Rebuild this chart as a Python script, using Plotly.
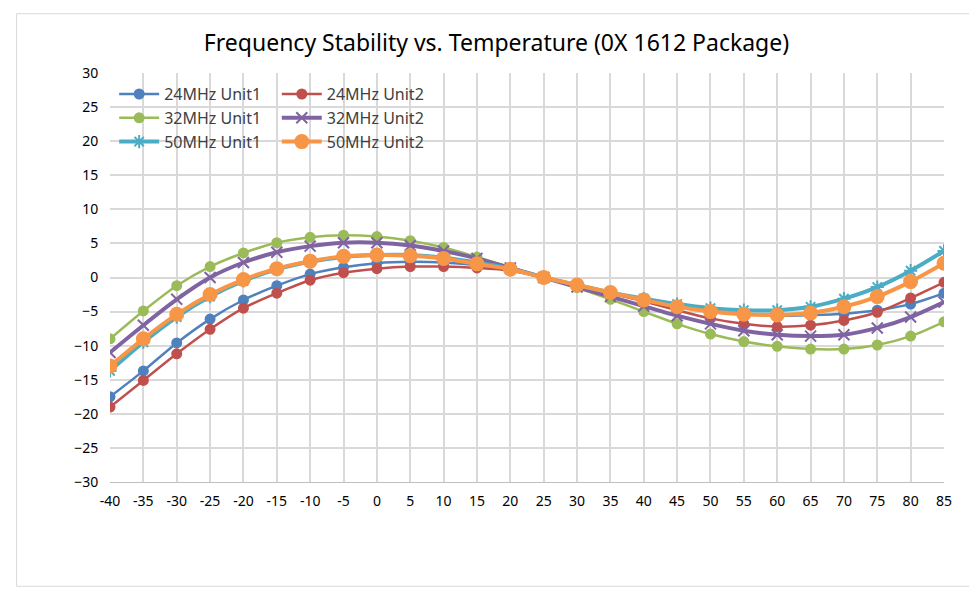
import plotly.graph_objects as go

temps = list(range(-40, 90, 5))
u24_1 = [-17.5,-13.7,-9.6,-6.1,-3.3,-1.2,0.5,1.5,2.1,2.3,2.2,1.8,1.2,0,-1.2,-2.3,-3.3,-4.2,-4.9,-5.3,-5.6,-5.5,-5.3,-4.8,-3.9,-2.3]
u24_2 = [-19,-15.1,-11.2,-7.6,-4.5,-2.3,-0.4,0.7,1.3,1.6,1.6,1.4,1.0,0,-1.1,-2.3,-3.5,-4.8,-6.0,-6.8,-7.2,-7.0,-6.3,-5.1,-3.0,-0.7]
u32_1 = [-9,-4.9,-1.2,1.6,3.6,5.1,5.9,6.2,6.0,5.4,4.4,3.0,1.5,0,-1.5,-3.2,-5.0,-6.8,-8.3,-9.4,-10.1,-10.5,-10.5,-9.9,-8.6,-6.5]
u32_2 = [-11,-7,-3.2,0,2.2,3.7,4.6,5.1,5.1,4.7,3.9,2.8,1.4,0,-1.4,-2.8,-4.2,-5.6,-6.8,-7.8,-8.4,-8.6,-8.4,-7.4,-5.8,-3.6]
u50_1 = [-13.7,-9.5,-5.8,-2.8,-0.5,1.2,2.3,3.0,3.3,3.3,2.9,2.2,1.3,0,-1.1,-2.2,-3.1,-3.9,-4.5,-4.8,-4.8,-4.3,-3.1,-1.4,1.0,3.9]
u50_2 = [-13,-9,-5.4,-2.5,-0.3,1.3,2.4,3.1,3.3,3.2,2.8,2.0,1.2,0,-1.1,-2.2,-3.3,-4.3,-5.0,-5.4,-5.5,-5.2,-4.3,-2.8,-0.6,2.1]

series = [
    ("24MHz Unit1", u24_1, "#4F81BD", 2.5, "circle", 9, "legend"),
    ("24MHz Unit2", u24_2, "#C0504D", 2.5, "circle", 9, "legend2"),
    ("32MHz Unit1", u32_1, "#9BBB59", 2.5, "circle", 9, "legend"),
    ("32MHz Unit2", u32_2, "#8064A2", 4, "x-thin-open", 11, "legend2"),
    ("50MHz Unit1", u50_1, "#4BACC6", 4, "asterisk-open", 11, "legend"),
    ("50MHz Unit2", u50_2, "#F79646", 4, "circle", 13, "legend2"),
]

fig = go.Figure()
for name, ys, col, w, sym, sz, lg in series:
    fig.add_trace(go.Scatter(
        x=temps, y=ys, name=name, mode="lines+markers",
        line=dict(color=col, width=w, shape="spline", smoothing=0.8),
        marker=dict(symbol=sym, size=sz, color=col, line=dict(color=col, width=2)),
        legend=lg))

font = "Noto Sans, Open Sans, sans-serif"
leg = dict(bgcolor="rgba(255,255,255,0)", font=dict(size=16, family=font, color="#404040"),
           tracegroupgap=4, itemwidth=40, yanchor="top", xanchor="left")
fig.update_layout(
    width=977, height=590,
    margin=dict(l=102, r=41, t=65, b=116),
    paper_bgcolor="white", plot_bgcolor="white",
    title=dict(text="Frequency Stability vs. Temperature (0X 1612 Package)",
               x=0.5, xanchor="center", y=0.955, font=dict(size=23, family=font, color="#000")),
    xaxis=dict(range=[-40, 85], tickmode="array", tickvals=temps, ticktext=[str(t) for t in temps],
               showgrid=True, gridcolor="#D9D9D9", gridwidth=1.5, zeroline=False,
               showline=True, linecolor="#BFBFBF", ticks="outside", ticklen=6, tickcolor="rgba(0,0,0,0)",
               tickfont=dict(size=14, family=font, color="#000")),
    yaxis=dict(range=[-30, 30], dtick=5, showgrid=True, gridcolor="#D9D9D9", gridwidth=1.5,
               zeroline=False, showline=False, ticks="outside", ticklen=8, tickcolor="rgba(0,0,0,0)",
               tickfont=dict(size=14, family=font, color="#000")),
    legend=dict(leg, x=0.005, y=0.99),
    legend2=dict(leg, x=0.2, y=0.99),
    shapes=[dict(type="rect", xref="paper", yref="paper", x0=-0.112, x1=1.037, y0=-0.255, y1=1.145,
                 line=dict(color="#D9D9D9", width=1))],
)
fig.write_html("out.html")
